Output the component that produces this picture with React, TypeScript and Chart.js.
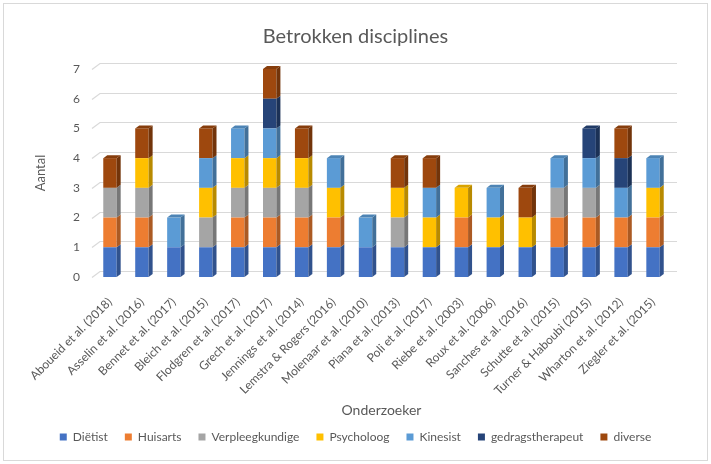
import React, { useEffect, useRef } from "react";
import { Chart, registerables } from "chart.js";
Chart.register(...registerables);

const categories = [
  "Aboueid et al. (2018)", "Asselin et al. (2016)", "Bennet et al. (2017)", "Bleich et al. (2015)",
  "Flodgren et al. (2017)", "Grech et al. (2017)", "Jennings et al. (2014)", "Lemstra & Rogers (2016)",
  "Molenaar et al. (2010)", "Piana et al. (2013)", "Poli et al. (2017)", "Riebe et al. (2003)",
  "Roux et al. (2006)", "Sanches et al. (2016)", "Schutte et al. (2015)", "Turner & Haboubi (2015)",
  "Wharton et al. (2012)", "Ziegler et al. (2015)",
];
const seriesNames = ["Diëtist", "Huisarts", "Verpleegkundige", "Psycholoog", "Kinesist", "gedragstherapeut", "diverse"];
const dietist = [1, 1, 1, 1, 1, 1, 1, 1, 1, 1, 1, 1, 1, 1, 1, 1, 1, 1];
const huisarts = [1, 1, 0, 0, 1, 1, 1, 1, 0, 0, 0, 1, 0, 0, 1, 1, 1, 1];
const verpleegkundige = [1, 1, 0, 1, 1, 1, 1, 0, 0, 1, 0, 0, 0, 0, 1, 1, 0, 0];
const psycholoog = [0, 1, 0, 1, 1, 1, 1, 1, 0, 1, 1, 1, 1, 1, 0, 0, 0, 1];
const kinesist = [0, 0, 1, 1, 1, 1, 0, 1, 1, 0, 1, 0, 1, 0, 1, 1, 1, 1];
const gedragstherapeut = [0, 0, 0, 0, 0, 1, 0, 0, 0, 0, 0, 0, 0, 0, 0, 1, 1, 0];
const diverse = [1, 1, 0, 1, 0, 1, 1, 0, 0, 1, 1, 0, 0, 1, 0, 0, 1, 0];
const seriesValues = [dietist, huisarts, verpleegkundige, psycholoog, kinesist, gedragstherapeut, diverse];
const seriesColors = ["#4472C4", "#ED7D31", "#A5A5A5", "#FFC000", "#5B9BD5", "#264478", "#9E480E"];
const yMin = 0;
const yMax = 7;
const yStep = 1;

const TEXT = "#595959";
const GRID = "#d9d9d9";
const DX = 4, DY = 3; // bar depth
const WX = 8, WY = 6; // wall depth
const PAD_BOTTOM = 11;
const FRONT_BOTTOM = 277;
const PLOT_LEFT = 94;
const PLOT_RIGHT_GAP = 42;

function shade(hex: string, f: number) {
  const n = parseInt(hex.slice(1), 16);
  const r = Math.round(((n >> 16) & 255) * f);
  const g = Math.round(((n >> 8) & 255) * f);
  const b = Math.round((n & 255) * f);
  return `rgb(${r},${g},${b})`;
}

const frame = {
  id: "frame",
  beforeDraw(chart: any) {
    const { ctx, width, height } = chart;
    ctx.save();
    ctx.fillStyle = "#fff";
    ctx.fillRect(0, 0, width, height);
    ctx.strokeStyle = GRID;
    ctx.lineWidth = 1;
    ctx.strokeRect(3.5, 3.5, width - 7, height - 7);
    ctx.restore();
  },
};

const wallGrid = {
  id: "wallGrid",
  beforeDatasetsDraw(chart: any) {
    const { ctx, chartArea } = chart;
    const ys = chart.scales.y;
    ctx.save();
    ctx.strokeStyle = GRID;
    ctx.lineWidth = 1.2;
    ys.ticks.forEach((t: any) => {
      const y = Math.round(ys.getPixelForValue(t.value)) + 0.5;
      ctx.beginPath();
      ctx.moveTo(chartArea.left - 2, y);
      ctx.lineTo(chartArea.left - 2 + WX, y - WY);
      ctx.lineTo(chartArea.right + WX, y - WY);
      ctx.stroke();
    });
    ctx.restore();
  },
};

const bar3d = {
  id: "bar3d",
  afterDatasetsDraw(chart: any) {
    const { ctx } = chart;
    const n = chart.data.labels.length;
    const topIdx = new Array(n).fill(-1);
    chart.data.datasets.forEach((ds: any, di: number) => {
      ds.data.forEach((v: number, i: number) => { if (v > 0) topIdx[i] = di; });
    });
    ctx.save();
    chart.data.datasets.forEach((ds: any, di: number) => {
      const meta = chart.getDatasetMeta(di);
      const col = ds.backgroundColor as string;
      meta.data.forEach((el: any, i: number) => {
        const v = ds.data[i];
        if (!v) return;
        const { x, y, base, width } = el.getProps(["x", "y", "base", "width"], true);
        const l = x - width / 2;
        const r = x + width / 2;
        ctx.fillStyle = shade(col, 0.72);
        ctx.beginPath();
        ctx.moveTo(r, y);
        ctx.lineTo(r + DX, y - DY);
        ctx.lineTo(r + DX, base - DY);
        ctx.lineTo(r, base);
        ctx.closePath();
        ctx.fill();
        if (topIdx[i] === di) {
          ctx.fillStyle = shade(col, 0.85);
          ctx.beginPath();
          ctx.moveTo(l, y);
          ctx.lineTo(l + DX, y - DY);
          ctx.lineTo(r + DX, y - DY);
          ctx.lineTo(r, y);
          ctx.closePath();
          ctx.fill();
        }
      });
    });
    ctx.restore();
  },
};

export default function App() {
  const ref = useRef<HTMLCanvasElement>(null);
  useEffect(() => {
    if (!ref.current) return;
    Chart.defaults.font.family = "Lato";
    const chart = new Chart(ref.current, {
      type: "bar",
      data: {
        labels: categories,
        datasets: seriesNames.map((name, i) => ({
          label: name,
          data: seriesValues[i],
          backgroundColor: seriesColors[i],
          borderWidth: 0,
          barPercentage: 0.42,
          categoryPercentage: 1,
        })),
      },
      options: {
        responsive: false,
        animation: false,
        layout: { padding: { left: 0, right: 0, top: 0, bottom: PAD_BOTTOM } },
        plugins: {
          tooltip: { enabled: false },
          title: {
            display: true,
            text: "Betrokken disciplines",
            color: TEXT,
            font: { size: 20, weight: "normal" },
            padding: { top: 25, bottom: 20 },
          },
          legend: {
            position: "bottom",
            labels: {
              color: TEXT,
              font: { size: 12 },
              boxWidth: 7,
              boxHeight: 7,
              padding: 17,
            },
          },
        },
        scales: {
          x: {
            stacked: true,
            grid: { display: false },
            border: { display: false },
            ticks: { color: TEXT, font: { size: 12 }, minRotation: 45, maxRotation: 45, padding: 10, autoSkip: false },
            title: { display: true, text: "Onderzoeker", color: TEXT, font: { size: 14 }, padding: { top: 0, bottom: -4.5 } },
            afterFit(s: any) {
              const lh = s.chart.legend && s.chart.legend.height ? s.chart.legend.height : 39;
              s.height = s.chart.height - PAD_BOTTOM - lh - FRONT_BOTTOM;
            },
          },
          y: {
            stacked: true,
            min: yMin,
            max: yMax,
            grid: { display: false },
            border: { display: false },
            ticks: { stepSize: yStep, color: TEXT, font: { size: 12 }, padding: 6 },
            title: { display: true, text: "Aantal", color: TEXT, font: { size: 13 }, padding: { top: 33, bottom: 0 } },
            afterFit(s: any) {
              s.width = PLOT_LEFT;
            },
          },
          yRight: {
            position: "right",
            display: true,
            min: yMin,
            max: yMax,
            grid: { display: false },
            border: { display: false },
            ticks: { display: false },
            afterFit(s: any) {
              s.width = PLOT_RIGHT_GAP;
            },
          },
        },
      },
      plugins: [frame, wallGrid, bar3d],
    });
    return () => chart.destroy();
  }, []);
  return (
    <div style={{ position: "fixed", left: 0, top: 0, width: 711, height: 464 }}>
      <canvas ref={ref} width={711} height={464} style={{ display: "block" }} />
    </div>
  );
}
